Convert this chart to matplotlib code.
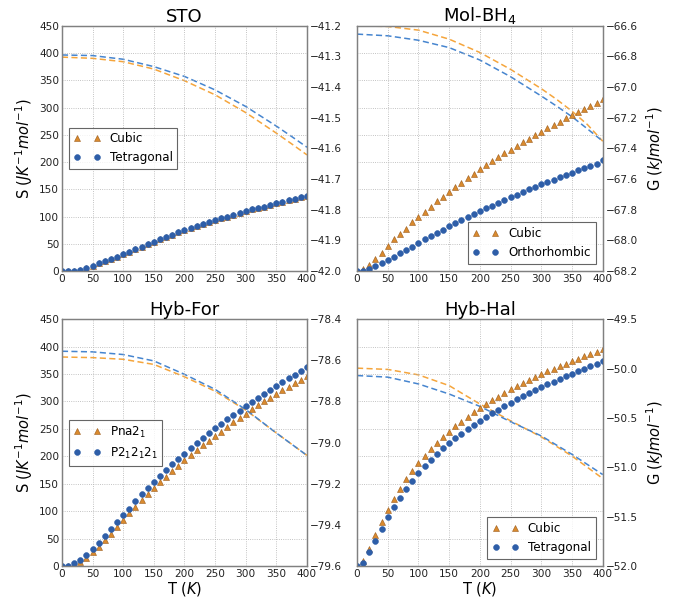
import numpy as np
import matplotlib
matplotlib.use("Agg")
import matplotlib.pyplot as plt
from matplotlib.ticker import MultipleLocator

# temperatures of the markers (K)
T = list(range(0, 401, 10))

# STO
sto_S_cub = [0, 0, 0.5, 2, 6, 10, 14, 18, 23, 26, 31, 35, 40, 45, 49, 54, 58, 62, 67, 71, 75,
             79, 83, 86, 90, 94, 97, 100, 103, 106, 110, 113, 115, 118, 121, 124, 127, 130, 132, 135, 138]
sto_S_tet = [0, 0, 0.5, 2, 6, 10, 14, 18, 23, 26, 31, 35, 40, 45, 49, 54, 58, 62, 67, 71, 75,
             79, 83, 86, 90, 94, 97, 100, 103, 106, 110, 113, 115, 118, 121, 124, 127, 130, 132, 135, 138]
sto_T_G = [0, 50, 100, 150, 200, 250, 300, 350, 375, 400]
sto_G_cub = [-41.302, -41.306, -41.317, -41.341, -41.379, -41.425, -41.483, -41.550, -41.585, -41.621]
sto_G_tet = [-41.295, -41.297, -41.309, -41.333, -41.365, -41.409, -41.463, -41.527, -41.561, -41.596]

# Mol-BH4
bh4_S_cub = [0, 3, 12, 23, 34, 46, 58, 68, 78, 90, 99, 109, 118, 128, 136, 145, 154, 162, 170, 179, 187,
             194, 202, 209, 216, 223, 230, 237, 243, 250, 256, 262, 268, 274, 280, 286, 291, 297, 302, 308, 315]
bh4_S_ort = [0, 1, 4, 9, 15, 20, 26, 33, 39, 45, 52, 58, 64, 70, 76, 82, 88, 93, 99, 104, 110,
             115, 120, 125, 130, 135, 140, 145, 150, 154, 159, 163, 168, 172, 176, 180, 185, 189, 193, 197, 203]
bh4_T_G = [0, 50, 100, 150, 200, 250, 300, 325, 350, 375, 400]
bh4_G_cub = [-66.600, -66.604, -66.628, -66.687, -66.774, -66.884, -67.010, -67.080, -67.157, -67.244, -67.353]
bh4_G_ort = [-66.654, -66.665, -66.694, -66.742, -66.823, -66.932, -67.058, -67.124, -67.193, -67.272, -67.353]

# Hyb-For
for_S_pna = [0, 0.5, 3, 8, 15, 26, 35, 47, 59, 71, 84, 96, 108, 120, 131, 143, 153, 163, 173, 183, 193,
             202, 211, 220, 228, 237, 245, 254, 262, 270, 278, 286, 293, 300, 307, 314, 321, 327, 334, 340, 347]
for_S_p21 = [0, 1, 5, 12, 20, 31, 42, 55, 68, 80, 93, 105, 118, 131, 143, 154, 165, 176, 186, 196, 205,
             215, 224, 234, 242, 251, 259, 268, 275, 283, 291, 299, 306, 313, 321, 328, 335, 342, 349, 355, 362]
for_T_G = [0, 50, 100, 150, 200, 250, 300, 350, 400]
for_G_pna = [-78.584, -78.587, -78.595, -78.620, -78.680, -78.750, -78.842, -78.953, -79.062]
for_G_p21 = [-78.556, -78.559, -78.572, -78.603, -78.668, -78.741, -78.839, -78.953, -79.062]

# Hyb-Hal
hal_S_cub = [0, 9, 32, 57, 81, 103, 123, 141, 159, 173, 187, 200, 213, 224, 235, 245, 255, 263, 272, 280, 288,
             295, 302, 309, 315, 322, 328, 334, 339, 345, 350, 355, 360, 365, 369, 373, 378, 382, 386, 390, 396]
hal_S_tet = [0, 6, 25, 46, 68, 89, 108, 125, 141, 155, 170, 182, 194, 205, 215, 224, 233, 241, 249, 257, 265,
             271, 279, 285, 292, 298, 304, 310, 315, 321, 326, 331, 336, 341, 346, 350, 355, 359, 364, 368, 373]
hal_T_G = [0, 50, 100, 150, 200, 250, 300, 350, 400]
hal_G_cub = [-49.996, -50.009, -50.064, -50.173, -50.359, -50.529, -50.692, -50.886, -51.113]
hal_G_tet = [-50.071, -50.087, -50.156, -50.258, -50.383, -50.539, -50.682, -50.869, -51.073]

ORANGE_M = '#d98a2e'
BLUE_M = '#2e5ea8'
ORANGE_L = '#f5a53c'
BLUE_L = '#4685cf'

panels = [
    ("STO", [0.089, 0.549, 0.352, 0.408], sto_S_cub, sto_S_tet, sto_T_G, sto_G_cub, sto_G_tet,
     ("Cubic", "Tetragonal"), (-42.0, -41.2), 0.1, "center left"),
    ("Mol-BH$_4$", [0.513, 0.549, 0.353, 0.408], bh4_S_cub, bh4_S_ort, bh4_T_G, bh4_G_cub, bh4_G_ort,
     ("Cubic", "Orthorhombic"), (-68.2, -66.6), 0.2, "lower right"),
    ("Hyb-For", [0.089, 0.058, 0.352, 0.411], for_S_pna, for_S_p21, for_T_G, for_G_pna, for_G_p21,
     ("Pna2$_1$", "P2$_1$2$_1$2$_1$"), (-79.6, -78.4), 0.2, "center left"),
    ("Hyb-Hal", [0.513, 0.058, 0.353, 0.411], hal_S_cub, hal_S_tet, hal_T_G, hal_G_cub, hal_G_tet,
     ("Cubic", "Tetragonal"), (-52.0, -49.5), 0.5, "lower right"),
]

fig = plt.figure(figsize=(6.96, 6.01), dpi=100)

for i, (title, rect, s1, s2, tg, g1, g2, labels, glim, gstep, loc) in enumerate(panels):
    ax = fig.add_axes(rect)
    ax2 = ax.twinx()

    ax.plot(T, s1, linestyle='none', marker='^', ms=4.2, color=ORANGE_M,
            mec='#9c5c1c', mew=0.4, label=labels[0])
    ax.plot(T, s2, linestyle='none', marker='o', ms=4.2, color=BLUE_M,
            mec=BLUE_M, mew=0.4, label=labels[1])
    ax2.plot(tg, g1, linestyle='--', dashes=(4, 2.2), lw=1.1, color=ORANGE_L)
    ax2.plot(tg, g2, linestyle='--', dashes=(4, 2.2), lw=1.1, color=BLUE_L)

    ax.set_xlim(0, 400)
    ax.set_ylim(0, 450)
    ax.xaxis.set_major_locator(MultipleLocator(50))
    ax.yaxis.set_major_locator(MultipleLocator(50))
    ax2.set_ylim(*glim)
    ax2.yaxis.set_major_locator(MultipleLocator(gstep))

    ax.grid(True, linestyle=':', color='#b0b0b0', lw=0.6)
    ax.tick_params(length=0, labelsize=7.6, pad=2, colors='#222222')
    ax2.tick_params(length=0, labelsize=7.6, pad=2, colors='#222222')
    for a in (ax, ax2):
        for sp in a.spines.values():
            sp.set_color('#808080')
            sp.set_linewidth(0.9)

    if i % 2 == 1:
        ax.set_yticklabels([])
        ax2.set_ylabel('G ($kJmol^{-1}$)', fontsize=10.5, labelpad=5)
    else:
        ax.set_ylabel('S ($JK^{-1}mol^{-1}$)', fontsize=10.5, labelpad=3)
    if i >= 2:
        ax.set_xlabel('T ($K$)', fontsize=10.5, labelpad=1)

    ax.set_title(title, fontsize=13, pad=2)
    leg = ax.legend(loc=loc, numpoints=2, fontsize=8.6, fancybox=False,
                    handlelength=2.2, borderaxespad=0.6)
    leg.get_frame().set_edgecolor('#404040')
    leg.get_frame().set_linewidth(0.8)
    ax.set_zorder(ax2.get_zorder() + 1)
    ax.patch.set_visible(False)

plt.savefig('out.png', dpi=100)
